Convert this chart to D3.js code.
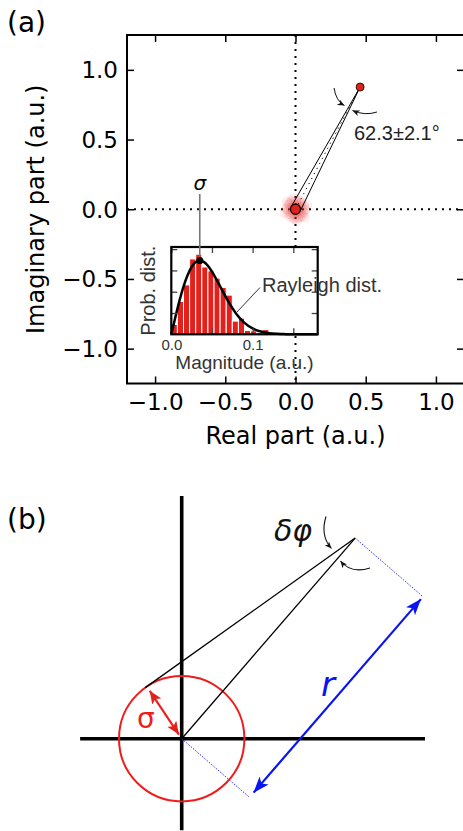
<!DOCTYPE html>
<html>
<head>
<meta charset="utf-8">
<script src="https://cdn.jsdelivr.net/npm/d3@7"></script>
<style>
  body { margin: 0; background: #fff; }
  svg { display: block; }
</style>
</head>
<body>
<svg id="fig"></svg>
<script>
var width = 463, height = 831;

// ---- panel (a) data ----
var mainTicks = [-1.0, -0.5, 0.0, 0.5, 1.0];
var phaseR = 0.99;          // magnitude of the mean point
var phaseDeg = 62.3;        // mean phase
var phaseErrDeg = 2.1;      // phase uncertainty
var sigma = 0.036;          // noise sigma (a.u.)
// noise cloud around the origin (a.u.)
var cloudX = [0.012,-0.031,0.044,-0.008,0.027,-0.052,0.006,0.035,-0.022,0.061,-0.040,0.018,-0.015,0.050,-0.063,0.030,-0.004,0.022,-0.035,0.009,0.070,-0.027,0.040,-0.011,0.002,-0.046,0.055,-0.020,0.014,0.033,-0.006,0.024,-0.017,0.004,0.082,-0.078,0.010,-0.012,0.066,-0.060,0.005,-0.003,0.015,-0.010];
var cloudY = [-0.020,0.015,0.008,-0.045,0.036,-0.010,0.052,-0.031,-0.006,0.021,0.040,-0.062,0.027,-0.048,0.003,0.011,-0.014,0.065,-0.037,0.030,-0.004,0.058,0.046,-0.070,0.019,0.033,-0.022,-0.029,-0.002,-0.055,0.006,-0.008,0.012,-0.018,0.030,-0.028,-0.085,0.080,-0.060,0.055,0.002,-0.005,0.004,0.010];

// inset histogram (bin width 0.0075 a.u.), probability density
var binWidth = 0.0075;
var histVals = [2.3, 7.7, 11.6, 17.7, 18.8, 15.8, 14.9, 13.2, 11.0, 9.2, 3.1, 3.8, 0.9, 0.8, 0.4, 1.1, 0, 0, 0.3];
// Rayleigh curve, read at these magnitudes
var rayX = [0, 0.005, 0.01, 0.015, 0.02, 0.025, 0.03, 0.035, 0.04, 0.045, 0.05, 0.06, 0.07, 0.08, 0.09, 0.10, 0.11, 0.12, 0.13, 0.14, 0.15, 0.16, 0.18];
var rayY = [0, 4.0, 7.84, 11.2, 13.87, 15.8, 16.96, 17.33, 17.0, 16.1, 14.71, 11.27, 7.73, 4.79, 2.69, 1.38, 0.64, 0.27, 0.11, 0.04, 0.01, 0, 0];
var insetXTicks = [0, 0.05, 0.1, 0.15];
var insetXLabels = [0, 0.1];
var insetYTicks = [5, 10, 15, 20];

// ---- panel (b) schematic (units of sigma) ----
var bSigma = 1;
var bR = 4.23;
var bPhiDeg = 49.15;
var bHAxis = [-1.62, 3.88];
var bVAxis = [-1.46, 3.87];
var bDimOffset = 1.43;

var svg = d3.select("#fig").attr("width", width).attr("height", height);

var red = "#e3211c";
var axFont = "DejaVu Sans, sans-serif";
var annFont = "Liberation Sans, Arial, sans-serif";

var defs = svg.append("defs");
function headMarker(id, color, len, w, notch){
    defs.append("marker")
        .attr("id", id)
        .attr("viewBox", (-len) + " " + (-w/2) + " " + len + " " + w)
        .attr("refX", 0).attr("refY", 0)
        .attr("markerUnits", "userSpaceOnUse")
        .attr("markerWidth", len).attr("markerHeight", w)
        .attr("orient", "auto-start-reverse")
        .append("path")
        .attr("d", "M0,0L" + (-len) + "," + (-w/2) + "L" + (-len+notch) + ",0L" + (-len) + "," + (w/2) + "Z")
        .attr("fill", color);
}
headMarker("blueHead", "#0a14f0", 16, 12, 4);
headMarker("redHead", red, 13, 11, 3);
headMarker("blackHead", "#111", 7, 6, 2);

var glow = defs.append("radialGradient").attr("id", "glow");
glow.append("stop").attr("offset", "0%").attr("stop-color", red).attr("stop-opacity", 0.75);
glow.append("stop").attr("offset", "45%").attr("stop-color", red).attr("stop-opacity", 0.35);
glow.append("stop").attr("offset", "100%").attr("stop-color", red).attr("stop-opacity", 0);

// ================= panel (a) =================
var x = d3.scaleLinear().domain([-1.2, 1.2]).range([127, 464]);
var y = d3.scaleLinear().domain([-1.25, 1.25]).range([383.5, 35]);

var gA = svg.append("g");

// dotted zero lines
gA.append("line")
    .attr("x1", x(-1.2)).attr("x2", x(1.2)).attr("y1", y(0)).attr("y2", y(0))
    .attr("stroke", "#000").attr("stroke-width", 2).attr("stroke-dasharray", "2,5");
gA.append("line")
    .attr("x1", x(0)).attr("x2", x(0)).attr("y1", y(1.25)).attr("y2", y(-1.25))
    .attr("stroke", "#000").attr("stroke-width", 2).attr("stroke-dasharray", "2,5");

// noise cloud
gA.append("circle")
    .attr("cx", x(0)).attr("cy", y(0)).attr("r", x(3 * sigma) - x(0))
    .attr("fill", "url(#glow)");
var cloud = cloudX.map(function(d, i){ return {x: d, y: cloudY[i]}; });
gA.selectAll(".cloud")
    .data(cloud)
    .enter()
    .append("circle")
    .attr("class", "cloud")
    .attr("cx", d => x(d.x))
    .attr("cy", d => y(d.y))
    .attr("r", 4.5)
    .attr("fill", red).attr("fill-opacity", 0.04)
    .attr("stroke", "#f07070").attr("stroke-opacity", 0.22).attr("stroke-width", 0.6);

// wedge: tangent lines from the tip to the sigma circle
var phi = phaseDeg * Math.PI / 180;
var tip = {x: phaseR * Math.cos(phi), y: phaseR * Math.sin(phi)};
var half = Math.acos(sigma / phaseR);
var tangents = [phi + half, phi - half].map(function(a){
    return {x: sigma * Math.cos(a), y: sigma * Math.sin(a)};
});
gA.selectAll(".wedge")
    .data(tangents)
    .enter()
    .append("line")
    .attr("class", "wedge")
    .attr("x1", d => x(d.x)).attr("y1", d => y(d.y))
    .attr("x2", x(tip.x)).attr("y2", y(tip.y))
    .attr("stroke", "#000").attr("stroke-width", 1);
gA.append("line")
    .attr("x1", x(0)).attr("y1", y(0))
    .attr("x2", x(tip.x)).attr("y2", y(tip.y))
    .attr("stroke", "#000").attr("stroke-width", 1).attr("stroke-dasharray", "1.2,4.5");

gA.append("circle")
    .attr("cx", x(0)).attr("cy", y(0))
    .attr("r", x(sigma) - x(0))
    .attr("fill", red).attr("stroke", "#000").attr("stroke-width", 1.2);
gA.append("circle")
    .attr("cx", x(tip.x)).attr("cy", y(tip.y))
    .attr("r", 4)
    .attr("fill", red).attr("stroke", "#000").attr("stroke-width", 0.8);

// phase-error curved arrows + label
gA.append("path")
    .attr("d", "M334,88 Q336,101 344.5,105.5")
    .attr("fill", "none").attr("stroke", "#111").attr("stroke-width", 1)
    .attr("marker-end", "url(#blackHead)");
gA.append("path")
    .attr("d", "M377,112 Q365,116 352.5,110.5")
    .attr("fill", "none").attr("stroke", "#111").attr("stroke-width", 1)
    .attr("marker-end", "url(#blackHead)");
gA.append("text")
    .attr("x", 354).attr("y", 139.5)
    .attr("font-family", annFont).attr("font-size", 20).attr("fill", "#222")
    .text(d3.format(".1f")(phaseDeg) + "±" + d3.format(".1f")(phaseErrDeg) + "°");

// axes (ticks inward, classic style)
var fmt = function(d){ return d3.format(".1f")(d).replace("-", "\u2212"); };
var axB = gA.append("g").attr("transform", "translate(0," + y(-1.25) + ")")
    .call(d3.axisBottom(x).tickValues(mainTicks).tickSizeInner(-7).tickSizeOuter(0).tickPadding(10).tickFormat(fmt));
var axL = gA.append("g").attr("transform", "translate(" + x(-1.2) + ",0)")
    .call(d3.axisLeft(y).tickValues(mainTicks).tickSizeInner(-7).tickSizeOuter(0).tickPadding(9).tickFormat(fmt));
var axT = gA.append("g").attr("transform", "translate(0," + y(1.25) + ")")
    .call(d3.axisTop(x).tickValues(mainTicks).tickSizeInner(-7).tickSizeOuter(0).tickFormat(""));
var axR = gA.append("g").attr("transform", "translate(" + x(1.2) + ",0)")
    .call(d3.axisRight(y).tickValues(mainTicks).tickSizeInner(-7).tickSizeOuter(0).tickFormat(""));
[axB, axL, axT, axR].forEach(function(a){
    a.select(".domain").remove();
    a.selectAll(".tick line").attr("stroke", "#000").attr("stroke-width", 1.5);
    a.selectAll(".tick text").attr("font-family", axFont).attr("font-size", 23).attr("fill", "#000");
});
axL.selectAll(".tick text").attr("dy", "0.34em");
gA.append("rect")
    .attr("x", x(-1.2)).attr("y", y(1.25))
    .attr("width", x(1.2) - x(-1.2)).attr("height", y(-1.25) - y(1.25))
    .attr("fill", "none").attr("stroke", "#000").attr("stroke-width", 2);

gA.append("text")
    .attr("x", (x(-1.2) + x(1.2)) / 2).attr("y", 444)
    .attr("text-anchor", "middle")
    .attr("font-family", axFont).attr("font-size", 24)
    .text("Real part (a.u.)");
gA.append("text")
    .attr("transform", "translate(44," + y(0) + ") rotate(-90)")
    .attr("text-anchor", "middle")
    .attr("font-family", axFont).attr("font-size", 24)
    .text("Imaginary part (a.u.)");
svg.append("text")
    .attr("x", 7).attr("y", 32)
    .attr("font-family", axFont).attr("font-size", 28)
    .text("(a)");

// ---- inset ----
var ix = d3.scaleLinear().domain([0, 0.18]).range([171.3, 317.7]);
var iy = d3.scaleLinear().domain([0, 20.5]).range([334.3, 247]);
var gI = svg.append("g");
gI.append("rect")
    .attr("x", ix(0)).attr("y", iy(20.5))
    .attr("width", ix(0.18) - ix(0)).attr("height", iy(0) - iy(20.5))
    .attr("fill", "#fff");

gI.selectAll(".bar")
    .data(histVals)
    .enter()
    .append("rect")
    .attr("class", "bar")
    .attr("x", (d, i) => ix(i * binWidth))
    .attr("width", ix(binWidth) - ix(0))
    .attr("y", d => iy(d))
    .attr("height", d => iy(0) - iy(d))
    .attr("fill", red)
    .attr("stroke", "#fff").attr("stroke-width", 1);

var ray = rayX.map(function(d, i){ return [d, rayY[i]]; });
gI.append("path")
    .datum(ray)
    .attr("d", d3.line().x(d => ix(d[0])).y(d => iy(d[1])).curve(d3.curveMonotoneX))
    .attr("fill", "none").attr("stroke", "#000").attr("stroke-width", 2.5);

var insetTickCol = "#444";
var iB = gI.append("g").attr("transform", "translate(0," + iy(0) + ")")
    .call(d3.axisBottom(ix).tickValues(insetXTicks).tickSizeInner(-6).tickSizeOuter(0).tickPadding(5)
        .tickFormat(d => insetXLabels.indexOf(d) >= 0 ? d3.format(".1f")(d) : ""));
var iT = gI.append("g").attr("transform", "translate(0," + iy(20.5) + ")")
    .call(d3.axisTop(ix).tickValues(insetXTicks).tickSizeInner(-6).tickSizeOuter(0).tickFormat(""));
var iL = gI.append("g").attr("transform", "translate(" + ix(0) + ",0)")
    .call(d3.axisLeft(iy).tickValues(insetYTicks).tickSizeInner(-6).tickSizeOuter(0).tickFormat(""));
var iR = gI.append("g").attr("transform", "translate(" + ix(0.18) + ",0)")
    .call(d3.axisRight(iy).tickValues(insetYTicks).tickSizeInner(-6).tickSizeOuter(0).tickFormat(""));
[iB, iT, iL, iR].forEach(function(a){
    a.select(".domain").remove();
    a.selectAll(".tick line").attr("stroke", insetTickCol).attr("stroke-width", 1.3);
    a.selectAll(".tick text").attr("font-family", annFont).attr("font-size", 15).attr("fill", "#333");
});
gI.append("rect")
    .attr("x", ix(0)).attr("y", iy(20.5))
    .attr("width", ix(0.18) - ix(0)).attr("height", iy(0) - iy(20.5))
    .attr("fill", "none").attr("stroke", "#000").attr("stroke-width", 2.2);

gI.append("text")
    .attr("x", (ix(0) + ix(0.18)) / 2).attr("y", 369)
    .attr("text-anchor", "middle")
    .attr("font-family", annFont).attr("font-size", 19).attr("fill", "#333")
    .text("Magnitude (a.u.)");
gI.append("text")
    .attr("transform", "translate(154.5," + ((iy(0) + iy(20.5)) / 2) + ") rotate(-90)")
    .attr("text-anchor", "middle")
    .attr("font-family", annFont).attr("font-size", 20).attr("fill", "#333")
    .text("Prob. dist.");

// Rayleigh label + leader
gI.append("line")
    .attr("x1", 260).attr("y1", 287.5).attr("x2", 237).attr("y2", 312)
    .attr("stroke", "#333").attr("stroke-width", 1);
gI.append("text")
    .attr("x", 262).attr("y", 291.5)
    .attr("font-family", annFont).attr("font-size", 20).attr("fill", "#333")
    .text("Rayleigh dist.");

// sigma marker at the curve peak
var peakSigma = 0.035, peakVal = 17.33;
gI.append("line")
    .attr("x1", ix(peakSigma)).attr("x2", ix(peakSigma))
    .attr("y1", 194).attr("y2", iy(peakVal))
    .attr("stroke", "#777").attr("stroke-width", 1.6);
gI.append("circle")
    .attr("cx", ix(peakSigma)).attr("cy", iy(peakVal)).attr("r", 3.6)
    .attr("fill", "#000");
gI.append("text")
    .attr("x", ix(peakSigma)).attr("y", 190)
    .attr("text-anchor", "middle")
    .attr("font-family", axFont).attr("font-style", "italic").attr("font-size", 20)
    .text("σ");

// ================= panel (b) =================
var bx = d3.scaleLinear().domain([0, 1]).range([181.7, 244.4]);
var by = d3.scaleLinear().domain([0, 1]).range([738.7, 676]);
var gB = svg.append("g");

svg.append("text")
    .attr("x", 7).attr("y", 529)
    .attr("font-family", axFont).attr("font-size", 28)
    .text("(b)");

// axes
gB.append("line")
    .attr("x1", bx(bHAxis[0])).attr("x2", bx(bHAxis[1])).attr("y1", by(0)).attr("y2", by(0))
    .attr("stroke", "#000").attr("stroke-width", 3.6);
gB.append("line")
    .attr("x1", bx(0)).attr("x2", bx(0)).attr("y1", by(bVAxis[0])).attr("y2", by(bVAxis[1]))
    .attr("stroke", "#000").attr("stroke-width", 3.6);

// sigma circle
gB.append("circle")
    .attr("cx", bx(0)).attr("cy", by(0))
    .attr("r", bx(bSigma) - bx(0))
    .attr("fill", "none").attr("stroke", "#ee1c1c").attr("stroke-width", 2);

var bPhi = bPhiDeg * Math.PI / 180;
var bTip = {x: bR * Math.cos(bPhi), y: bR * Math.sin(bPhi)};
var bTanA = bPhi + Math.acos(bSigma / bR);
var bTan = {x: bSigma * Math.cos(bTanA), y: bSigma * Math.sin(bTanA)};

gB.append("line")
    .attr("x1", bx(0)).attr("y1", by(0)).attr("x2", bx(bTip.x)).attr("y2", by(bTip.y))
    .attr("stroke", "#000").attr("stroke-width", 1.3);
gB.append("line")
    .attr("x1", bx(bTan.x)).attr("y1", by(bTan.y)).attr("x2", bx(bTip.x)).attr("y2", by(bTip.y))
    .attr("stroke", "#000").attr("stroke-width", 1.3);

// red sigma arrow
gB.append("line")
    .attr("x1", bx(0.08 * Math.cos(bTanA - 0.03))).attr("y1", by(0.08 * Math.sin(bTanA - 0.03)))
    .attr("x2", bx(0.92 * Math.cos(bTanA - 0.03))).attr("y2", by(0.92 * Math.sin(bTanA - 0.03)))
    .attr("stroke", "#ee1c1c").attr("stroke-width", 2.2)
    .attr("marker-start", "url(#redHead)").attr("marker-end", "url(#redHead)");
gB.append("text")
    .attr("x", bx(-0.57)).attr("y", by(0.17))
    .attr("text-anchor", "middle")
    .attr("font-family", axFont).attr("font-size", 28).attr("fill", "#ee1c1c")
    .text("σ");

// blue dimension for r
var offA = bPhi - Math.PI / 2;
var off = {x: bDimOffset * Math.cos(offA), y: bDimOffset * Math.sin(offA)};
[[{x: 0, y: 0}], [bTip]].forEach(function(p){
    gB.append("line")
        .attr("x1", bx(p[0].x)).attr("y1", by(p[0].y))
        .attr("x2", bx(p[0].x + off.x)).attr("y2", by(p[0].y + off.y))
        .attr("stroke", "#2a2af5").attr("stroke-width", 1).attr("stroke-dasharray", "1.5,1.5");
});
var dimStart = 0.1, dimEnd = bR - 0.05;
gB.append("line")
    .attr("x1", bx(off.x + dimStart * Math.cos(bPhi))).attr("y1", by(off.y + dimStart * Math.sin(bPhi)))
    .attr("x2", bx(off.x + dimEnd * Math.cos(bPhi))).attr("y2", by(off.y + dimEnd * Math.sin(bPhi)))
    .attr("stroke", "#0a14f0").attr("stroke-width", 2.2)
    .attr("marker-start", "url(#blueHead)").attr("marker-end", "url(#blueHead)");
gB.append("text")
    .attr("x", 328).attr("y", 696)
    .attr("text-anchor", "middle")
    .attr("font-family", axFont).attr("font-style", "italic").attr("font-size", 34).attr("fill", "#0a14f0")
    .text("r");

// delta phi label + curved arrows
gB.append("text")
    .attr("x", 274).attr("y", 541)
    .attr("font-family", axFont).attr("font-style", "italic").attr("font-size", 30).attr("fill", "#111")
    .text("δφ");
gB.append("path")
    .attr("d", "M326,516.5 Q320,536 331.5,548.5")
    .attr("fill", "none").attr("stroke", "#111").attr("stroke-width", 1.1)
    .attr("marker-end", "url(#blackHead)");
gB.append("path")
    .attr("d", "M370,568 Q351,574 340.5,561")
    .attr("fill", "none").attr("stroke", "#111").attr("stroke-width", 1.1)
    .attr("marker-end", "url(#blackHead)");
</script>
</body>
</html>
